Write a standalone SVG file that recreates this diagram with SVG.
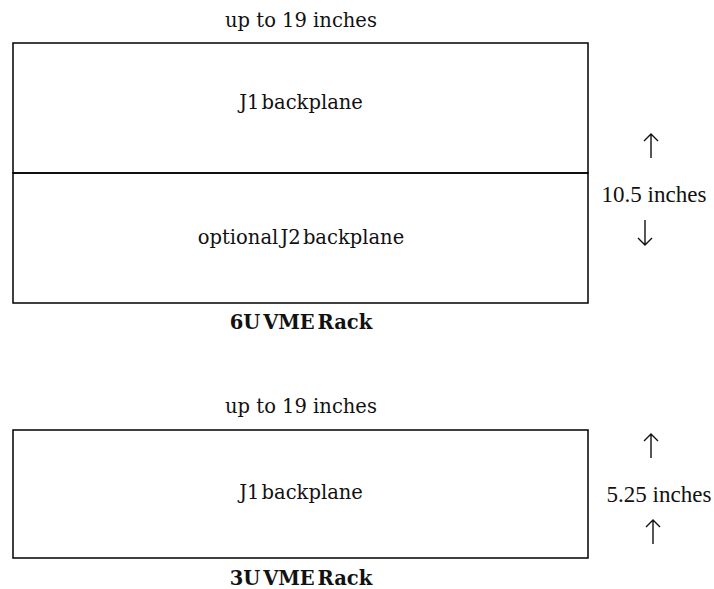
<svg xmlns="http://www.w3.org/2000/svg" width="714" height="589" viewBox="0 0 714 589">
<style>
.box{fill:none;stroke:#000;stroke-width:1.5}
.lbl{font-family:"DejaVu Serif","Liberation Serif",serif;font-size:19.5px;fill:#111;text-anchor:middle}
.tight{word-spacing:-4px}
.bold{font-weight:bold}
.dim{font-family:"Liberation Serif","Times New Roman",serif;font-size:23px;fill:#111;text-anchor:middle}
.arr{fill:none;stroke:#111;stroke-width:1.4}
</style>
<rect width="714" height="589" fill="#fff"/>
<g id="rack6u">
<text class="lbl" x="301" y="27">up to 19 inches</text>
<g id="j1-6u">
<rect class="box" x="13" y="43" width="575" height="130"/>
<text class="lbl tight" x="301" y="109">J1 backplane</text>
</g>
<g id="j2-6u">
<rect class="box" x="13" y="173" width="575" height="130"/>
<text class="lbl tight" x="301" y="244">optional J2 backplane</text>
</g>
<text class="lbl bold tight" x="301" y="329">6U VME Rack</text>
<g id="dim6u">
<path class="arr" d="M651 158V134M644 141L651 134L658 141"/>
<text class="dim" x="654" y="202">10.5 inches</text>
<path class="arr" d="M645 220V245M638 238L645 245L652 238"/>
</g>
</g>
<g id="rack3u">
<text class="lbl" x="301" y="413">up to 19 inches</text>
<g id="j1-3u">
<rect class="box" x="13" y="430" width="575" height="128"/>
<text class="lbl tight" x="301" y="499">J1 backplane</text>
</g>
<text class="lbl bold tight" x="301" y="585">3U VME Rack</text>
<g id="dim3u">
<path class="arr" d="M651 458V434M644 441L651 434L658 441"/>
<text class="dim" x="659" y="502">5.25 inches</text>
<path class="arr" d="M653 544V520M646 527L653 520L660 527"/>
</g>
</g>
<g id="connectors"></g>
</svg>
